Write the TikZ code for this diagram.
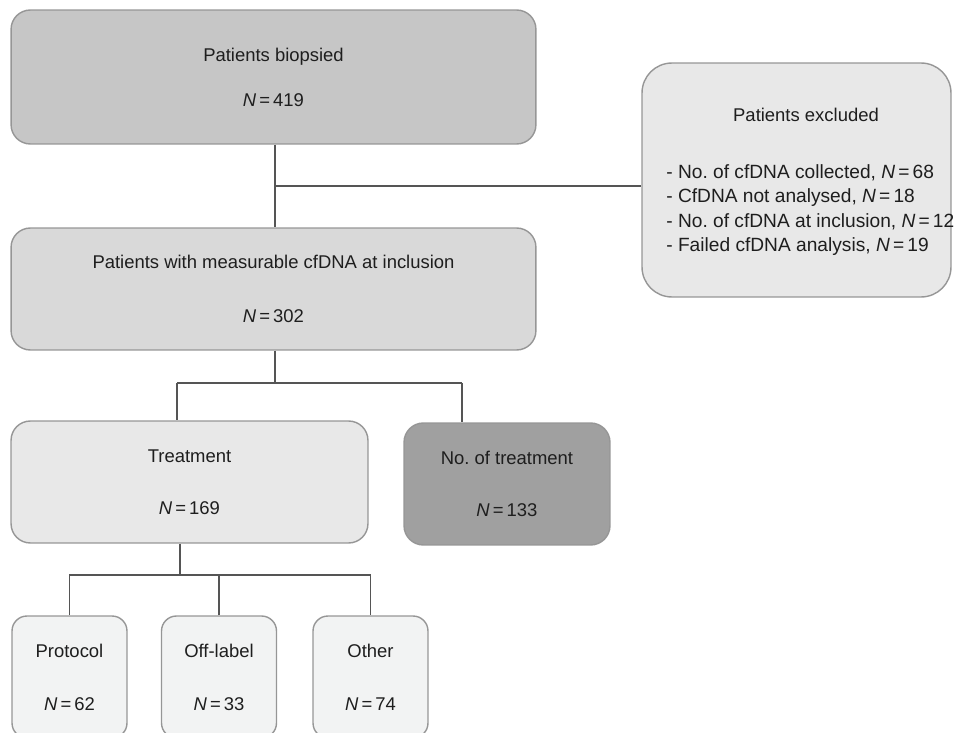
\documentclass[tikz,border=0pt]{standalone}
\usepackage{fontspec}
\setmainfont{Liberation Sans}
\usepackage{xcolor}
\usetikzlibrary{positioning}
\definecolor{FCBorder}{RGB}{150,150,150}
\definecolor{FCLine}{RGB}{85,85,85}
\definecolor{FCText}{RGB}{30,30,30}
\definecolor{FCDark}{RGB}{160,160,160}
\definecolor{FCMid}{RGB}{198,198,198}
\definecolor{FCLight}{RGB}{217,217,217}
\definecolor{FCPale}{RGB}{232,232,232}
\definecolor{FCWhite}{RGB}{242,243,243}
\newcommand{\nval}[1]{\textit{N}\,=\,#1}
\frenchspacing

\begin{document}
\begin{tikzpicture}[x=0.02cm, y=-0.02cm,
          bx/.style={rectangle, rounded corners=11pt, draw=FCBorder, line width=0.8pt,
                     align=center, inner sep=0pt, text=FCText,
                     font=\fontsize{10.5}{12.6}\selectfont},
          sub/.style={bx, rounded corners=8.5pt, fill=FCWhite,
                      minimum width=2.3cm, minimum height=2.44cm},
          conn/.style={draw=FCLine, line width=0.75pt},
          txt/.style={inner sep=0pt, text=FCText, font=\fontsize{10.5}{12.6}\selectfont}
        ]
        \useasboundingbox (0,0) rectangle (954,733);

        \node[bx, fill=FCMid, minimum width=10.5cm, minimum height=2.68cm]
              (biop)  at (273.5, 77)  {Patients biopsied\\[13pt]\nval{419}};
        \node[bx, fill=FCLight, minimum width=10.5cm, minimum height=2.44cm]
              (meas)  at (273.5, 289) {Patients with measurable cfDNA at inclusion\\[18pt]\nval{302}};
        \node[bx, fill=FCPale, rounded corners=17pt, minimum width=6.18cm, minimum height=4.68cm]
              (excl)  at (796.5, 180) {};
        \node[txt] (exclhead) at (806, 115) {Patients excluded};
        \node[txt, align=left, anchor=west, font=\fontsize{10.9}{14}\selectfont]
              (excllist) at (666, 210)
              {- No. of cfDNA collected, \nval{68}\\
               - CfDNA not analysed, \nval{18}\\
               - No. of cfDNA at inclusion, \nval{12}\\
               - Failed cfDNA analysis, \nval{19}};
        \node[bx, fill=FCPale, minimum width=7.14cm, minimum height=2.44cm]
              (treat) at (189.5, 482) {Treatment\\[17pt]\nval{169}};
        \node[bx, fill=FCDark, minimum width=4.12cm, minimum height=2.44cm]
              (notreat) at (507, 484) {No. of treatment\\[17pt]\nval{133}};
        \node[sub] (proto) at (69.5, 677)  {Protocol\\[17.5pt]\nval{62}};
        \node[sub] (offl)  at (219, 677)   {Off-label\\[17.5pt]\nval{33}};
        \node[sub] (other) at (370.5, 677) {Other\\[17.5pt]\nval{74}};

        \coordinate (j1) at (275, 186);
        \coordinate (j2) at (275, 383);
        \coordinate (b1) at (177, 383);
        \coordinate (b2) at (462, 383);
        \coordinate (j3) at (180, 575);

        \draw[conn] (j1 |- biop.south) -- (j1 |- meas.north);
        \draw[conn] (j1) -- (j1 -| excl.west);
        \draw[conn] (j2 |- meas.south) -- (j2);
        \draw[conn] (b1) -- (b2);
        \draw[conn] (b1) -- (b1 |- treat.north);
        \draw[conn] (b2) -- (b2 |- notreat.north);
        \draw[conn] (j3 |- treat.south) -- (j3);
        \draw[conn] (proto.north) |- (j3) -| (other.north);
        \draw[conn] (offl.north) -- (offl.north |- j3);
      \end{tikzpicture}
\end{document}
